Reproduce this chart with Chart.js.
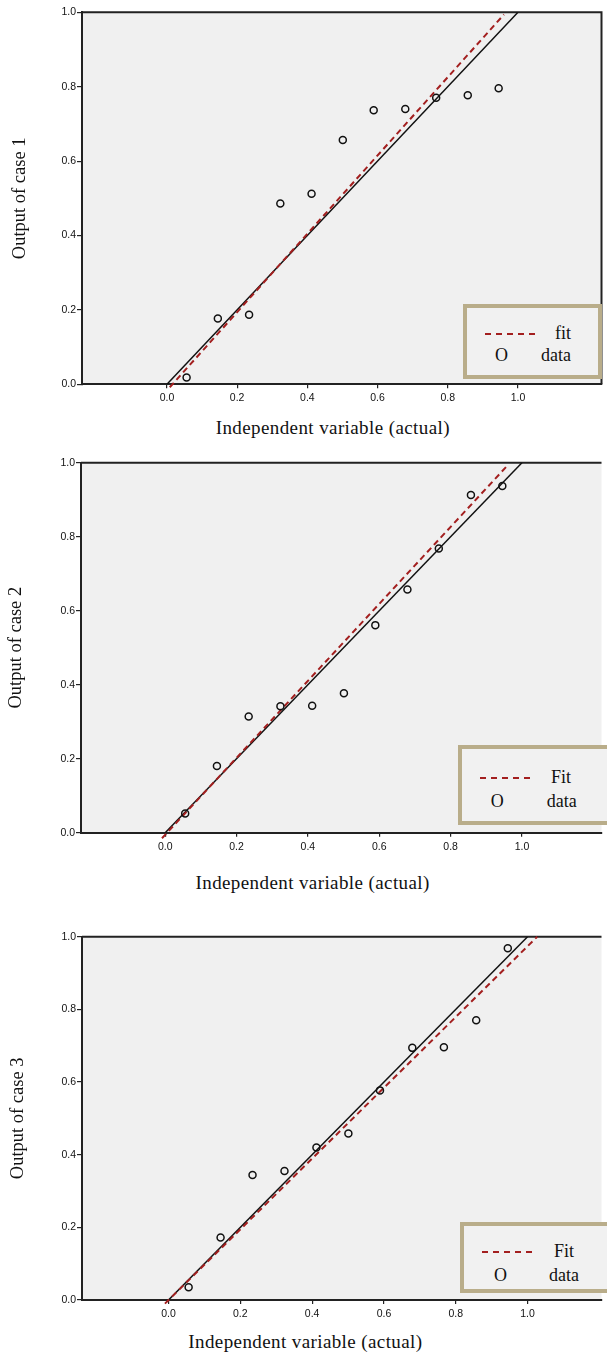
<!DOCTYPE html>
<html>
<head>
<meta charset="utf-8">
<title>Output of cases vs independent variable</title>
<script src="https://cdn.jsdelivr.net/npm/chart.js@4.4.1/dist/chart.umd.min.js"></script>
<style>
  html, body { margin: 0; padding: 0; background: #fff; }
  body { position: relative; width: 607px; height: 1353px; overflow: hidden; }
  .panel { position: absolute; left: 0; width: 607px; }
  .xtitle { position: absolute; font-family: "Liberation Serif", "Times New Roman", serif; font-size: 19px; line-height: 19px; letter-spacing: 0.4px; color: #111; white-space: nowrap; }
  .legend { position: absolute; box-sizing: border-box; border: 4px solid #b9ad8a; background: #f1f1f1; }
  .legend span { position: absolute; font-family: "Liberation Serif", "Times New Roman", serif; font-size: 18px; line-height: 18px; color: #111; white-space: nowrap; }
  .legend svg { position: absolute; overflow: visible; }
</style>
</head>
<body>
<script>
// values
const xActual = [0.056, 0.145, 0.234, 0.323, 0.412, 0.501, 0.589, 0.679, 0.767, 0.857, 0.945];
const case1Output = [0.018, 0.177, 0.187, 0.486, 0.512, 0.657, 0.737, 0.740, 0.770, 0.777, 0.796];
const case2Output = [0.052, 0.180, 0.314, 0.342, 0.343, 0.377, 0.561, 0.657, 0.768, 0.913, 0.937];
const case3Output = [0.035, 0.172, 0.344, 0.355, 0.420, 0.458, 0.577, 0.694, 0.696, 0.770, 0.968];

// fitted lines (dashed), end points
const fit1X = [0.008, 0.960];
const fit1Y = [-0.008, 0.994];
const fit2X = [-0.009, 0.961];
const fit2Y = [-0.015, 0.994];
const fit3X = [-0.010, 1.027];
const fit3Y = [-0.010, 1.000];

// y = x reference line (solid)
const refX = [0, 1];
const refY = [0, 1];

const tickValues = [0, 0.2, 0.4, 0.6, 0.8, 1.0];
const yTitles = ['Output of case 1', 'Output of case 2', 'Output of case 3'];
const xTitle = 'Independent variable (actual)';
const fitLabels = ['fit', 'Fit', 'Fit'];
const dataLabel = 'data';

// layout of the three panels (page pixels)
const panels = [
  { top: 0, height: 410, chartTop: 12.3, chartBottom: 384.3, chartLeft: 82, right: 606, rightBorder: true,
    xMin: -0.242, xMax: 1.238, yTitlePad: 8.6,
    xTitlePos: { left: 215.7, base: 434 },
    legend: { box: [463, 304, 139, 75], dash: [485, 537, 334], fit: [555, 338.7], o: [495, 361], data: [541, 361] } },
  { top: 440, height: 420, chartTop: 462.7, chartBottom: 832.7, chartLeft: 81, right: 607, rightBorder: false,
    xMin: -0.236, xMax: 1.223, yTitlePad: 4.8,
    xTitlePos: { left: 195.5, base: 888.7 },
    legend: { box: [458, 745, 160, 80], dash: [480, 532, 777.7], fit: [551, 782.7], o: [490.7, 806.7], data: [546.7, 806.7] } },
  { top: 915, height: 410, chartTop: 936.7, chartBottom: 1300, chartLeft: 82, right: 607, rightBorder: false,
    xMin: -0.241, xMax: 1.206, yTitlePad: 6.7,
    xTitlePos: { left: 188.3, base: 1348.3 },
    legend: { box: [460, 1222, 160, 71], dash: [481.7, 534.3, 1252.3], fit: [554, 1256.7], o: [494, 1280.7], data: [549, 1280.7] } }
];

Chart.defaults.font.family = '"Liberation Sans", Arial, sans-serif';
Chart.defaults.color = '#111';

// grey plot area with a frame on top (and right when visible)
const plotFrame = {
  id: 'plotFrame',
  beforeDraw(chart, args, opts) {
    const { ctx, chartArea: a } = chart;
    ctx.save();
    ctx.fillStyle = '#f0f0f0';
    ctx.fillRect(a.left, a.top, a.right - a.left, a.bottom - a.top);
    ctx.strokeStyle = '#222';
    ctx.lineWidth = 2;
    ctx.beginPath();
    ctx.moveTo(a.left, a.top);
    ctx.lineTo(a.right, a.top);
    if (opts.right) {
      ctx.lineTo(a.right, a.bottom);
    }
    ctx.stroke();
    ctx.restore();
  }
};

function points(xs, ys) {
  return xs.map(function (x, i) { return { x: x, y: ys[i] }; });
}

function axisStyle(tickLength, padding) {
  return {
    grid: { display: true, drawOnChartArea: false, drawTicks: true, tickLength: tickLength, color: '#222', lineWidth: 1.2 },
    border: { display: true, color: '#222', width: 2 },
    ticks: { padding: padding, color: '#111', font: { size: 10.5 }, maxRotation: 0, autoSkip: false,
      callback: function (v) { return v.toFixed(1); } }
  };
}

function makePanel(p, yValues, fitX, fitY, yTitle, fitLabel) {
  const box = document.createElement('div');
  box.className = 'panel';
  box.style.top = p.top + 'px';
  box.style.height = p.height + 'px';
  const canvas = document.createElement('canvas');
  box.appendChild(canvas);
  document.body.appendChild(box);

  const xAxis = axisStyle(4, 4);
  const yAxis = axisStyle(5, 1);

  new Chart(canvas.getContext('2d'), {
    type: 'scatter',
    data: {
      datasets: [
        {
          label: dataLabel,
          data: points(xActual, yValues),
          pointStyle: 'circle',
          pointRadius: 3.5,
          pointBorderWidth: 1.5,
          borderColor: '#111',
          backgroundColor: 'rgba(0,0,0,0)',
          order: 0
        },
        {
          label: fitLabel,
          data: points(fitX, fitY),
          showLine: true,
          borderColor: '#a31f1f',
          borderWidth: 2,
          borderDash: [6, 4],
          pointRadius: 0,
          clip: false,
          order: 1
        },
        {
          label: 'y = x',
          data: points(refX, refY),
          showLine: true,
          borderColor: '#111',
          borderWidth: 1.5,
          pointRadius: 0,
          order: 2
        }
      ]
    },
    options: {
      responsive: true,
      maintainAspectRatio: false,
      animation: false,
      layout: { padding: { top: p.chartTop - p.top, right: 607 - p.right, bottom: 0, left: 0 } },
      scales: {
        x: Object.assign(xAxis, {
          type: 'linear',
          position: 'bottom',
          min: p.xMin,
          max: p.xMax,
          afterBuildTicks: function (s) { s.ticks = tickValues.map(function (v) { return { value: v }; }); },
          afterFit: function (s) { s.height = p.top + p.height - p.chartBottom; }
        }),
        y: Object.assign(yAxis, {
          type: 'linear',
          position: 'left',
          min: 0,
          max: 1,
          afterBuildTicks: function (s) { s.ticks = tickValues.map(function (v) { return { value: v }; }); },
          afterFit: function (s) { s.width = p.chartLeft; },
          title: {
            display: true,
            text: yTitle,
            color: '#111',
            font: { family: '"Liberation Serif", "Times New Roman", serif', size: 18.5 },
            padding: { top: p.yTitlePad, bottom: 0 }
          }
        })
      },
      plugins: {
        legend: { display: false },
        tooltip: { enabled: false },
        plotFrame: { right: p.rightBorder }
      }
    },
    plugins: [plotFrame]
  });

  // x axis title
  const xt = document.createElement('div');
  xt.className = 'xtitle';
  xt.textContent = xTitle;
  xt.style.left = p.xTitlePos.left + 'px';
  xt.style.top = (p.xTitlePos.base - 15.9) + 'px';
  document.body.appendChild(xt);

  // legend box
  const L = p.legend;
  const lg = document.createElement('div');
  lg.className = 'legend';
  lg.style.left = L.box[0] + 'px';
  lg.style.top = L.box[1] + 'px';
  lg.style.width = L.box[2] + 'px';
  lg.style.height = L.box[3] + 'px';
  const ox = L.box[0] + 4, oy = L.box[1] + 4;

  const svgNS = 'http://www.w3.org/2000/svg';
  const svg = document.createElementNS(svgNS, 'svg');
  const w = L.dash[1] - L.dash[0];
  svg.setAttribute('width', w);
  svg.setAttribute('height', 4);
  svg.style.left = (L.dash[0] - ox) + 'px';
  svg.style.top = (L.dash[2] - 2 - oy) + 'px';
  const line = document.createElementNS(svgNS, 'line');
  line.setAttribute('x1', 0);
  line.setAttribute('x2', w);
  line.setAttribute('y1', 2);
  line.setAttribute('y2', 2);
  line.setAttribute('stroke', '#a31f1f');
  line.setAttribute('stroke-width', 2);
  line.setAttribute('stroke-dasharray', '6 5');
  svg.appendChild(line);
  lg.appendChild(svg);

  [[fitLabel, L.fit], ['O', L.o], [dataLabel, L.data]].forEach(function (t) {
    const s = document.createElement('span');
    s.textContent = t[0];
    s.style.left = (t[1][0] - ox) + 'px';
    s.style.top = (t[1][1] - 15 - oy) + 'px';
    lg.appendChild(s);
  });
  document.body.appendChild(lg);
}

makePanel(panels[0], case1Output, fit1X, fit1Y, yTitles[0], fitLabels[0]);
makePanel(panels[1], case2Output, fit2X, fit2Y, yTitles[1], fitLabels[1]);
makePanel(panels[2], case3Output, fit3X, fit3Y, yTitles[2], fitLabels[2]);
</script>
</body>
</html>
